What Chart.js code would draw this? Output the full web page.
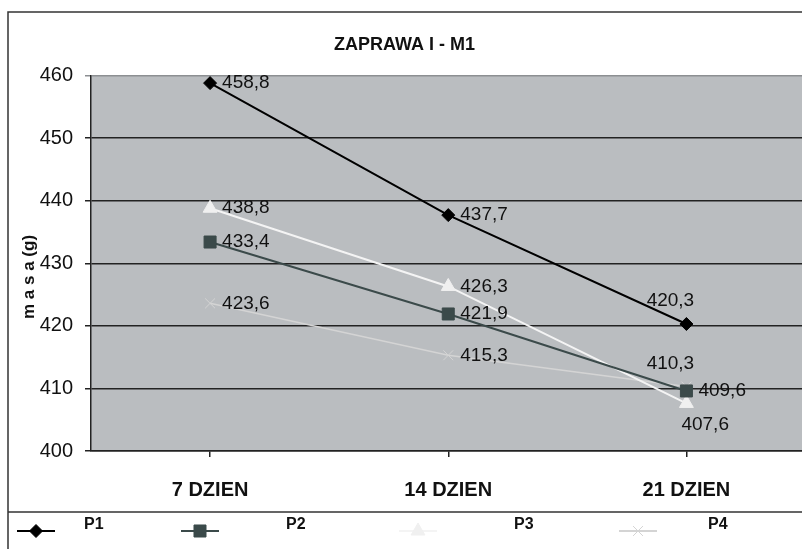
<!DOCTYPE html>
<html>
<head>
<meta charset="utf-8">
<script src="https://cdn.jsdelivr.net/npm/chart.js"></script>
<style>
    html, body { margin: 0; padding: 0; background: #fff; overflow: hidden; }
    #wrap { width: 815px; height: 549px; position: relative; }
</style>
</head>
<body>
<div id="wrap"><canvas id="myChart" width="815" height="549"></canvas></div>
<script>
var categories = ['7 DZIEN', '14 DZIEN', '21 DZIEN'];
var seriesNames = ['P1', 'P2', 'P3', 'P4'];
var p1 = [458.8, 437.7, 420.3];
var p2 = [433.4, 421.9, 409.6];
var p3 = [438.8, 426.3, 407.6];
var p4 = [423.6, 415.3, 410.3];
var yMin = 400, yMax = 460, yStep = 10;
var yTitle = 'm a s a (g)';

var FONT = "'Liberation Sans', Arial, sans-serif";

// tło wykresu + ramki + opis osi Y
var framePlugin = {
    id: 'frame',
    beforeDraw: function (chart) {
        var c = chart.ctx, a = chart.chartArea;
        c.save();
        c.fillStyle = '#babdc0';
        c.fillRect(a.left, a.top, a.right - a.left, a.bottom - a.top);
        c.restore();
    },
    afterDraw: function (chart) {
        var c = chart.ctx;
        c.save();
        c.strokeStyle = '#333';
        c.lineWidth = 1.5;
        c.beginPath();
        c.moveTo(8, 549); c.lineTo(8, 12); c.lineTo(chart.width, 12);
        c.moveTo(8, 512); c.lineTo(chart.width, 512);
        c.stroke();
        // tytuł osi Y (w oryginale trochę poniżej środka)
        c.translate(29, 277);
        c.rotate(-Math.PI / 2);
        c.fillStyle = '#111';
        c.font = 'bold 17px ' + FONT;
        c.textAlign = 'center'; c.textBaseline = 'middle';
        c.fillText(yTitle, 0, 0);
        c.restore();
    }
};

// etykiety wartości (z przecinkiem)
var labelPlugin = {
    id: 'valLabels',
    afterDatasetsDraw: function (chart) {
        var c = chart.ctx;
        c.save();
        c.font = '19px ' + FONT;
        c.fillStyle = '#111';
        chart.data.datasets.forEach(function (ds, i) {
            var meta = chart.getDatasetMeta(i);
            meta.data.forEach(function (pt, j) {
                var txt = ds.data[j].toFixed(1).replace('.', ',');
                var pos = ds.labelPos[j];
                if (pos == 'above') {
                    c.textAlign = 'center'; c.textBaseline = 'middle';
                    c.fillText(txt, pt.x - 16, pt.y - 23);
                } else if (pos == 'below') {
                    c.textAlign = 'left'; c.textBaseline = 'middle';
                    c.fillText(txt, pt.x - 5, pt.y + 21);
                } else {
                    c.textAlign = 'left'; c.textBaseline = 'middle';
                    c.fillText(txt, pt.x + 12, pt.y);
                }
            });
        });
        c.restore();
    }
};

// legenda na dole
var legendSlots = [{ mx: 36, tx: 84 }, { mx: 200, tx: 286 }, { mx: 418, tx: 514 }, { mx: 638, tx: 708 }];
var legendPlugin = {
    id: 'bottomLegend',
    afterDraw: function (chart) {
        var c = chart.ctx;
        c.save();
        chart.data.datasets.forEach(function (ds, i) {
            var s = legendSlots[i], y = 531;
            c.strokeStyle = ds.borderColor;
            c.lineWidth = 2;
            c.beginPath();
            c.moveTo(s.mx - 19, y); c.lineTo(s.mx + 19, y);
            c.stroke();
            c.fillStyle = ds.pointBackgroundColor;
            c.strokeStyle = ds.pointBorderColor;
            c.lineWidth = ds.pointBorderWidth;
            Chart.helpers.drawPoint(c, { pointStyle: ds.pointStyle, radius: ds.pointRadius, borderWidth: ds.pointBorderWidth }, s.mx, y);
            c.fillStyle = '#111';
            c.font = 'bold 16px ' + FONT;
            c.textAlign = 'left'; c.textBaseline = 'middle';
            c.fillText(ds.label, s.tx, 525);
        });
        c.restore();
    }
};

var ctx = document.getElementById('myChart').getContext('2d');
var chart = new Chart(ctx, {
    type: 'line',
    data: {
        labels: categories,
        datasets: [{
            label: seriesNames[0], data: p1,
            borderColor: '#000', borderWidth: 2,
            pointStyle: 'rectRot', pointRadius: 6.5, pointBorderWidth: 1,
            pointBackgroundColor: '#000', pointBorderColor: '#000',
            labelPos: ['right', 'right', 'above']
        }, {
            label: seriesNames[1], data: p2,
            borderColor: '#3b4a4a', borderWidth: 2,
            pointStyle: 'rect', pointRadius: 8.5, pointBorderWidth: 1,
            pointBackgroundColor: '#3b4a4a', pointBorderColor: '#3b4a4a',
            labelPos: ['right', 'right', 'right']
        }, {
            label: seriesNames[2], data: p3,
            borderColor: '#f4f4f4', borderWidth: 2,
            pointStyle: 'triangle', pointRadius: 8, pointBorderWidth: 1,
            pointBackgroundColor: '#f0f0f0', pointBorderColor: '#f0f0f0',
            labelPos: ['right', 'right', 'below']
        }, {
            label: seriesNames[3], data: p4,
            borderColor: '#d4d4d4', borderWidth: 1.5,
            pointStyle: 'crossRot', pointRadius: 7, pointBorderWidth: 1,
            pointBackgroundColor: '#d4d4d4', pointBorderColor: '#d4d4d4',
            labelPos: ['right', 'right', 'above']
        }]
    },
    plugins: [framePlugin, labelPlugin, legendPlugin],
    options: {
        responsive: false,
        animation: false,
        devicePixelRatio: 1,
        layout: { padding: { left: 0, right: 6, top: 0, bottom: 38 } },
        plugins: {
            legend: { display: false },
            tooltip: { enabled: false },
            title: {
                display: true,
                text: 'ZAPRAWA I - M1',
                color: '#111',
                font: { family: FONT, size: 18, weight: 'bold' },
                padding: { top: 34, bottom: 20 }
            }
        },
        scales: {
            x: {
                offset: true,
                grid: { drawOnChartArea: false, drawTicks: true, tickLength: 6, color: '#222', lineWidth: 1.5 },
                border: { color: '#222', width: 1.5 },
                ticks: { color: '#111', padding: 21, font: { family: FONT, size: 20, weight: 'bold' } },
                afterFit: function (scale) { scale.height = 60; }
            },
            y: {
                min: yMin, max: yMax,
                grid: {
                    tickLength: 6, lineWidth: 1.5,
                    color: function (c) { return c.tick && c.tick.value == yMax ? '#8c8f92' : '#222'; }
                },
                border: { color: '#222', width: 1.5 },
                ticks: { stepSize: yStep, color: '#111', padding: 12, font: { family: FONT, size: 20 } },
                afterFit: function (scale) { scale.width = 91; }
            }
        }
    }
});
</script>
</body>
</html>
